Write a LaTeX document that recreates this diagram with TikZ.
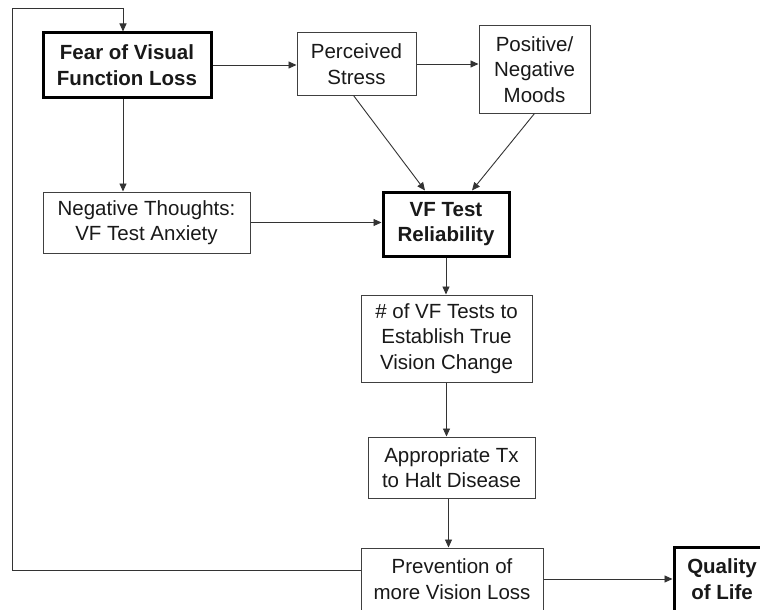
\documentclass[tikz,border=0pt]{standalone}
\usepackage{fontspec}
\setmainfont{Liberation Sans}
\usetikzlibrary{arrows.meta}
\begin{document}
\begin{tikzpicture}[x=1pt,y=-1pt,
  every node/.style={font=\fontsize{20.5}{25.5}\selectfont, align=center, inner sep=0pt, text=black!90},
  thinbox/.style={draw=black!75, line width=1pt, rectangle},
  thickbox/.style={draw=black, line width=3pt, rectangle, font=\fontsize{20.5}{25.5}\selectfont\bfseries},
  conn/.style={draw=black!80, line width=0.9pt},
  arr/.style={conn, -{Triangle[length=8pt,width=7pt]}}]
\useasboundingbox (0,0) rectangle (760,610);
\clip (0,0) rectangle (760,610);
\fill[white] (0,0) rectangle (760,610);
\node[thickbox, minimum width=168pt, minimum height=64pt] (fear) at (127,65) {Fear of Visual\\Function Loss};
\node[thinbox, minimum width=119pt, minimum height=62pt] (ps) at (356.5,64) {Perceived\\Stress};
\node[thinbox, minimum width=111pt, minimum height=87pt] (pnm) at (534.5,69.5) {Positive/\\Negative\\Moods};
\node[thinbox, minimum width=207pt, minimum height=61pt] (nt) at (146.5,222.5) {Negative Thoughts:\\VF Test Anxiety};
\node[thickbox, minimum width=126pt, minimum height=64pt] (vf) at (446,224) {VF Test\\Reliability};
\node[thinbox, minimum width=171pt, minimum height=87pt] (num) at (446.5,338.5) {\# of VF Tests to\\Establish True\\Vision Change};
\node[thinbox, minimum width=167pt, minimum height=61pt] (tx) at (451.5,467.5) {Appropriate Tx\\to Halt Disease};
\node[thinbox, minimum width=182pt, minimum height=62pt] (prev) at (452,579) {Prevention of\\more Vision Loss};
\node[thickbox, minimum width=96pt, minimum height=64pt] (qol) at (722,579) {Quality\\of Life};
\coordinate (lb) at (12,570);
\coordinate (lt) at (12,8);
\coordinate (ft) at (123,8);
\draw[arr] (fear.east) -- (fear.east -| ps.west);
\draw[arr] (ps.east) -- (ps.east -| pnm.west);
\draw[arr] ([xshift=-4pt]fear.south) -- ([xshift=-4pt]fear.south |- nt.north);
\draw[arr] (nt.east) -- (nt.east -| vf.west);
\draw[arr] ([xshift=-3pt]ps.south) -- ([xshift=-21pt]vf.north);
\draw[arr] (pnm.south) -- ([xshift=26pt]vf.north);
\draw[arr] (vf.south) -- (vf.south |- num.north);
\draw[arr] (num.south) -- (num.south |- tx.north);
\draw[arr] ([xshift=-3pt]tx.south) -- ([xshift=-3pt]tx.south |- prev.north);
\draw[arr] (prev.east) -- (prev.east -| qol.west);
\draw[conn] (prev.west |- lb) -- (lb) -- (lt) -- (ft);
\draw[arr] (ft) -- (ft |- fear.north);
\end{tikzpicture}
\end{document}
